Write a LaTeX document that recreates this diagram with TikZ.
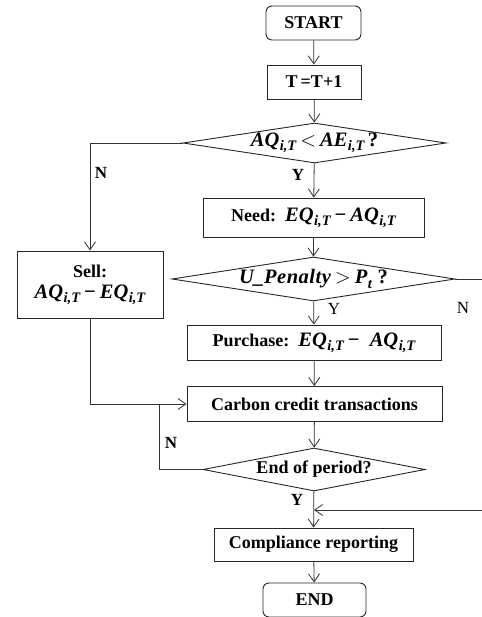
\documentclass[tikz,border=0pt]{standalone}
\usepackage{fontspec}
\setmainfont{Liberation Serif}
\usetikzlibrary{shapes.geometric,arrows.meta}

% bold italic quantity with a bold italic subscript
\newcommand\sbq[2]{\textbf{\textit{#1}}\kern0.5pt\raisebox{-0.45ex}{\fontsize{14.5}{14.5}\selectfont\bfseries\itshape #2}}
\newcommand\mth[1]{{\fontsize{20.5}{20.5}\selectfont #1}}
\newcommand\opsp{\hspace{4pt}}

\tikzset{
  flow/.style={draw=black!80, line width=0.8pt},
  arr/.style={flow, -{Straight Barb[length=8pt,width=11pt,line width=0.8pt]}},
  procbox/.style={draw=black!85, line width=0.9pt, rectangle, align=center,
    font=\fontsize{18}{20}\selectfont\bfseries, inner sep=0pt},
  termbox/.style={procbox, rounded corners=6pt},
  decide/.style={draw=black!85, line width=0.9pt, diamond, inner sep=0pt,
    font=\fontsize{18}{20}\selectfont\bfseries},
  lbl/.style={font=\fontsize{17}{17}\selectfont\bfseries, inner sep=0pt},
  lblr/.style={font=\fontsize{17}{17}\selectfont, inner sep=0pt},
}

\begin{document}
\begin{tikzpicture}[x=1pt,y=-1pt]
\useasboundingbox[fill=white] (0,0) rectangle (481,617);

% steps
\node[termbox, minimum width=95pt, minimum height=34pt] (start) at (313.5,23) {START};
\node[procbox, minimum width=94pt, minimum height=34pt] (tinc) at (314,82) {T\,=T+1};
\node[decide, aspect=6.575, minimum width=263pt, minimum height=40pt] (d1) at (314.5,143)
  {\mth{\sbq{AQ}{i,T}\opsp$<$\opsp\sbq{AE}{i,T}\,\textbf{?}}};
\node[procbox, minimum width=221pt, minimum height=39pt] (need) at (313.5,217.5)
  {Need:\enspace\mth{\sbq{EQ}{i,T}\opsp\textbf{−}\opsp\sbq{AQ}{i,T}}};
\node[decide, aspect=6.43, minimum width=283pt, minimum height=44pt] (d2) at (313.5,279)
  {\mth{\textbf{\textit{U\_P\kern0.5pt e\kern0.5pt n\kern0.5pt a\kern0.5pt l\kern0.5pt t\kern0.5pt y}}\opsp$>$\opsp\sbq{P}{t}\;\textbf{?}}};
\node[procbox, minimum width=146pt, minimum height=67pt] (sell) at (90,284.5)
  {Sell:\\[1pt]\mth{\sbq{AQ}{i,T}\opsp\textbf{−}\opsp\sbq{EQ}{i,T}}};
\node[procbox, minimum width=254pt, minimum height=35pt] (buy) at (314,342.5)
  {Purchase:\enspace\mth{\sbq{EQ}{i,T}\opsp\textbf{−}\enspace\sbq{AQ}{i,T}}};
\node[procbox, minimum width=255pt, minimum height=35pt] (trade) at (314.5,404)
  {Carbon credit transactions};
\node[decide, aspect=5.16, minimum width=222pt, minimum height=43pt] (d3) at (314,469.5)
  {End of period?};
\node[procbox, minimum width=199pt, minimum height=33pt] (report) at (313.5,544.5)
  {Compliance reporting};
\node[termbox, minimum width=103pt, minimum height=34pt] (stop) at (314.5,600)
  {END};

% junction points
\coordinate (nloop) at (159,404);
\coordinate (rjoin) at (314,510);
\coordinate (redge) at (490,279);

% main flow
\draw[arr] (start) -- (tinc);
\draw[arr] (tinc) -- (d1);
\draw[arr] (d1) -- (need);
\draw[arr] (need) -- (d2);
\draw[arr] (d2) -- (buy);
\draw[arr] (buy) -- (trade);
\draw[arr] (trade) -- (d3);
\draw[arr] (d3) -- (report);
\draw[arr] (report) -- (stop);

% branches
\draw[arr] (d1.west) -| (sell.north);
\draw[arr] (sell.south) |- (trade.west);
\draw[flow] (d3.west) -| (nloop);
\draw[arr] (d2.east) -- (redge) |- (rjoin);

% branch labels
\node[lbl] at (298,175) {Y};
\node[lbl] at (101,173) {N};
\node[lblr] at (334,309) {Y};
\node[lblr] at (463,308) {N};
\node[lbl] at (171,443) {N};
\node[lbl] at (297,500) {Y};
\end{tikzpicture}
\end{document}
